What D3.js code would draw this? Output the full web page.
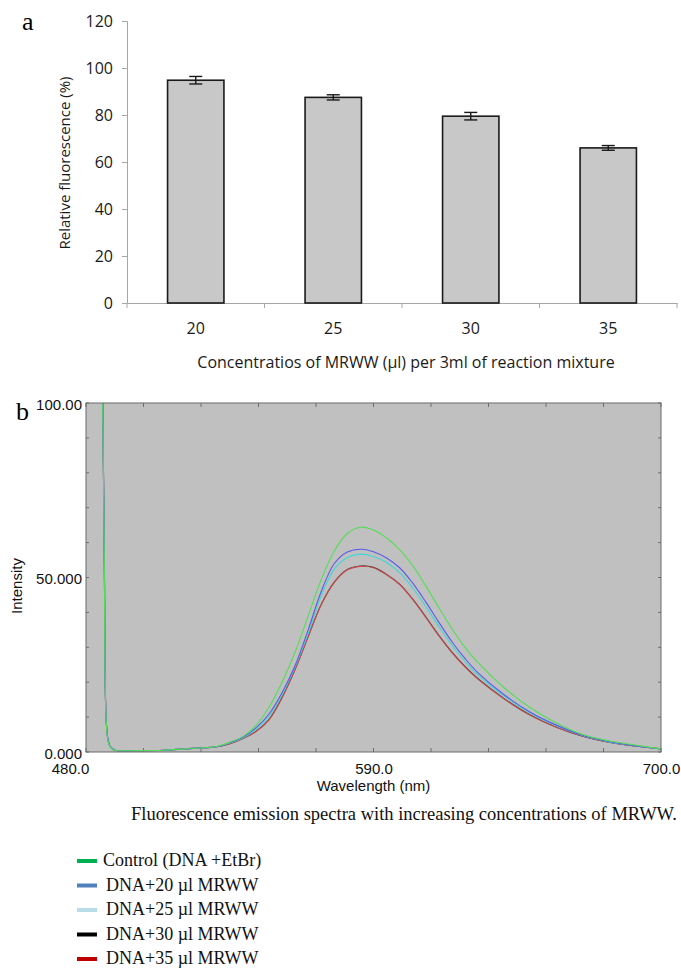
<!DOCTYPE html>
<html>
<head>
<meta charset="utf-8">
<style>
  body { margin: 0; background: #fff; }
  svg { display: block; }
</style>
</head>
<body>
<div id="chartId"></div>
<script src="https://cdn.jsdelivr.net/npm/d3@7"></script>
<script>

// Panel a: bar chart data
const concentrations = ['20', '25', '30', '35'];
const relFluorescence = [94.8, 87.5, 79.5, 66.0];
const relError = [1.6, 1.1, 1.6, 1.0];
const yTicksA = [0, 20, 40, 60, 80, 100, 120];

// Panel b: emission spectra (wavelength in nm, intensity)
const wavelength = [486.0, 486.4, 487.0, 487.7, 488.5, 489.5, 491, 500, 510, 518, 525, 530, 535, 540, 545, 550, 555, 560, 565, 570, 575, 580, 585, 590, 595, 600, 605, 610, 615, 620, 625, 630, 640, 650, 660, 670, 680, 690, 700];
const controlEtBr = [112, 100, 55, 9, 3, 1.2, 0.5, 0.4, 0.5, 0.9, 1.2, 1.6, 2.8, 4.4, 7.6, 12.8, 20.0, 28.6, 39.0, 49.4, 57.6, 62.6, 64.4, 63.6, 61.3, 58.0, 53.4, 47.6, 41.4, 35.3, 30.0, 25.6, 18.4, 12.7, 8.3, 5.0, 3.2, 2.0, 0.9];
const mrww20 = [112, 100, 56, 9.5, 3.2, 1.3, 0.5, 0.4, 0.5, 0.9, 1.2, 1.5, 2.7, 4.2, 6.9, 10.9, 17.0, 24.8, 35.0, 46.0, 54.0, 57.3, 58.1, 57.4, 55.6, 52.8, 48.4, 43.0, 37.2, 31.6, 26.8, 22.7, 16.4, 11.4, 7.7, 4.8, 3.0, 1.8, 0.9];
const mrww25 = [112, 100, 55.5, 9.2, 3.1, 1.2, 0.5, 0.4, 0.5, 0.9, 1.2, 1.5, 2.6, 4.0, 6.5, 10.3, 16.4, 24.4, 34.0, 44.8, 52.4, 55.7, 56.7, 56.0, 54.3, 51.4, 47.0, 41.7, 36.0, 30.6, 26.0, 22.0, 16.0, 11.2, 7.5, 4.7, 2.9, 1.8, 0.9];
const mrww30 = [112, 100, 56, 9.4, 3.2, 1.3, 0.5, 0.4, 0.5, 0.9, 1.2, 1.5, 2.4, 3.9, 5.9, 9.3, 15.6, 23.7, 33.1, 42.3, 48.7, 52.3, 53.3, 52.9, 50.9, 48.1, 43.8, 38.7, 33.4, 28.6, 24.5, 21.0, 15.3, 10.6, 7.1, 4.5, 2.8, 1.7, 0.9];
const mrww35 = [112, 100, 56.5, 9.6, 3.2, 1.3, 0.5, 0.4, 0.5, 0.9, 1.2, 1.5, 2.4, 3.8, 5.8, 9.2, 15.5, 23.6, 33.0, 42.2, 48.6, 52.2, 53.2, 52.8, 50.8, 48.0, 43.7, 38.6, 33.3, 28.5, 24.4, 20.9, 15.2, 10.5, 7.1, 4.6, 2.8, 1.7, 0.9];
const xTicksB = [480, 590, 700];
const yTicksB = [0, 50, 100];

const legendLabels = ['Control (DNA +EtBr)', 'DNA+20 \u00b5l MRWW', 'DNA+25 \u00b5l MRWW', 'DNA+30 \u00b5l MRWW', 'DNA+35 \u00b5l MRWW'];
const legendColors = ['#00b050', '#4f81bd', '#b7dee8', '#000000', '#c00000'];

const svg = d3.select('#chartId').append('svg')
  .attr('width', 681)
  .attr('height', 968);

// ---------- panel a ----------
const sansA = '"Open Sans", sans-serif';
const serif = '"Liberation Serif", "Times New Roman", serif';
const inkA = '#1a1a1a';

const xA = d3.scaleBand().domain(concentrations).range([127, 677])
  .paddingInner(0.59).paddingOuter(0.295);
const yA = d3.scaleLinear().domain([0, 120]).range([303, 21]);

svg.append('text').text('a')
  .attr('x', 22).attr('y', 30)
  .style('font-family', serif).style('font-size', '26px');

const yAxisA = svg.append('g').attr('transform', 'translate(127,0)')
  .call(d3.axisLeft(yA).tickValues(yTicksA).tickSize(5).tickPadding(9));
yAxisA.selectAll('path, line').attr('stroke', '#a6a6a6');
yAxisA.selectAll('text').style('font-family', sansA).style('font-size', '16px').attr('fill', inkA);

const xAxisA = svg.append('g').attr('transform', 'translate(0,303)')
  .call(d3.axisBottom(xA).tickSize(0).tickPadding(20));
xAxisA.select('path').attr('stroke', '#a6a6a6');
xAxisA.selectAll('text').style('font-family', sansA).style('font-size', '16px').attr('fill', inkA);
// tick marks between categories
xAxisA.selectAll('.sep')
  .data(d3.range(concentrations.length + 1))
  .join('line')
  .attr('x1', i => xA.range()[0] + i * xA.step())
  .attr('x2', i => xA.range()[0] + i * xA.step())
  .attr('y1', 0).attr('y2', 5)
  .attr('stroke', '#a6a6a6');

svg.selectAll('.bar')
  .data(relFluorescence)
  .join('rect')
  .attr('x', (d, i) => xA(concentrations[i]))
  .attr('y', d => yA(d))
  .attr('width', xA.bandwidth())
  .attr('height', d => yA(0) - yA(d))
  .attr('fill', '#c8c8c8')
  .attr('stroke', '#1a1a1a')
  .attr('stroke-width', 1.6);

const err = svg.append('g').attr('stroke', '#1a1a1a').attr('stroke-width', 1.4);
relFluorescence.forEach((v, i) => {
  const cx = xA(concentrations[i]) + xA.bandwidth() / 2;
  err.append('line').attr('x1', cx).attr('x2', cx).attr('y1', yA(v - relError[i])).attr('y2', yA(v + relError[i]));
  err.append('line').attr('x1', cx - 6.5).attr('x2', cx + 6.5).attr('y1', yA(v - relError[i])).attr('y2', yA(v - relError[i]));
  err.append('line').attr('x1', cx - 6.5).attr('x2', cx + 6.5).attr('y1', yA(v + relError[i])).attr('y2', yA(v + relError[i]));
});

svg.append('text').text('Relative fluorescence (%)')
  .attr('transform', 'translate(70,163) rotate(-90)')
  .attr('text-anchor', 'middle')
  .style('font-family', sansA).style('font-size', '15px').attr('fill', inkA);

svg.append('text').text('Concentratios of MRWW (\u00b5l) per 3ml of reaction mixture')
  .attr('x', 406).attr('y', 368)
  .attr('text-anchor', 'middle')
  .style('font-family', sansA).style('font-size', '16px').attr('fill', inkA);

// ---------- panel b ----------
const sansB = '"Liberation Sans", Arial, sans-serif';
const xB = d3.scaleLinear().domain([480, 700]).range([86, 661]);
const yB = d3.scaleLinear().domain([0, 100]).range([752, 403]);

svg.append('text').text('b')
  .attr('x', 16).attr('y', 420)
  .style('font-family', serif).style('font-size', '26px');

svg.append('rect')
  .attr('x', xB(480)).attr('y', yB(100))
  .attr('width', xB(700) - xB(480)).attr('height', yB(0) - yB(100))
  .attr('fill', '#c0c0c0');

svg.append('clipPath').attr('id', 'plotClip')
  .append('rect')
  .attr('x', xB(480)).attr('y', yB(100))
  .attr('width', xB(700) - xB(480)).attr('height', yB(0) - yB(100));

// inward minor ticks on all four sides
const minorX = d3.range(480, 700.1, 22);
const minorY = d3.range(0, 100.1, 10);
const tickG = svg.append('g').attr('stroke', '#6e6e6e');
minorX.forEach(w => {
  tickG.append('line').attr('x1', xB(w)).attr('x2', xB(w)).attr('y1', yB(100)).attr('y2', yB(100) + 4);
  tickG.append('line').attr('x1', xB(w)).attr('x2', xB(w)).attr('y1', yB(0)).attr('y2', yB(0) - 4);
});
minorY.forEach(v => {
  tickG.append('line').attr('x1', xB(480)).attr('x2', xB(480) + 3).attr('y1', yB(v)).attr('y2', yB(v));
  tickG.append('line').attr('x1', xB(700)).attr('x2', xB(700) - 3).attr('y1', yB(v)).attr('y2', yB(v));
});

const series = [
  { values: mrww30, color: '#3a3a3a' },
  { values: mrww35, color: '#cc4c4c' },
  { values: mrww25, color: '#3fd6d6' },
  { values: mrww20, color: '#5b5be8' },
  { values: controlEtBr, color: '#55dd55' }
];
const line = d3.line()
  .x((d, i) => xB(wavelength[i]))
  .y(d => yB(d))
  .curve(d3.curveCatmullRom.alpha(0.5));

svg.append('g').attr('clip-path', 'url(#plotClip)')
  .selectAll('path')
  .data(series)
  .join('path')
  .attr('fill', 'none')
  .attr('stroke', d => d.color)
  .attr('stroke-width', 1.1)
  .attr('d', d => line(d.values));

svg.append('rect')
  .attr('x', xB(480)).attr('y', yB(100))
  .attr('width', xB(700) - xB(480)).attr('height', yB(0) - yB(100))
  .attr('fill', 'none').attr('stroke', '#6a6a6a').attr('stroke-width', 1);

const yAxisB = svg.append('g').attr('transform', 'translate(' + xB(480) + ',1.5)')
  .call(d3.axisLeft(yB).tickValues(yTicksB).tickSize(0).tickPadding(4)
    .tickFormat(d => d === 100 ? '100.00' : d3.format('.3f')(d)));
yAxisB.select('path').remove();
yAxisB.selectAll('text').style('font-family', sansB).style('font-size', '15px').attr('fill', '#111');

const xAxisB = svg.append('g').attr('transform', 'translate(0,' + yB(0) + ')')
  .call(d3.axisBottom(xB).tickValues(xTicksB).tickSize(0).tickPadding(11).tickFormat(d3.format('.1f')));
xAxisB.select('path').remove();
xAxisB.selectAll('text').style('font-family', sansB).style('font-size', '15px').attr('fill', '#111')
  .attr('dx', d => d === 480 ? -16 : 0);

svg.append('text').text('Intensity')
  .attr('transform', 'translate(22,586) rotate(-90)')
  .attr('text-anchor', 'middle')
  .style('font-family', sansB).style('font-size', '15px').attr('fill', '#111');

svg.append('text').text('Wavelength (nm)')
  .attr('x', xB(590)).attr('y', 791)
  .attr('text-anchor', 'middle')
  .style('font-family', sansB).style('font-size', '15px').attr('fill', '#111');

svg.append('text').text('Fluorescence emission spectra with increasing concentrations of MRWW.')
  .attr('x', 677).attr('y', 820)
  .attr('text-anchor', 'end')
  .style('font-family', serif).style('font-size', '18.5px').attr('fill', '#111');

// legend
const legend = svg.append('g');
legendLabels.forEach((label, i) => {
  const y = 861 + i * 24.5;
  legend.append('line')
    .attr('x1', 77).attr('x2', 97).attr('y1', y).attr('y2', y)
    .attr('stroke', legendColors[i]).attr('stroke-width', 4);
  legend.append('text').text(label)
    .attr('x', i === 0 ? 103 : 106).attr('y', y + 5)
    .style('font-family', serif).style('font-size', '18px').attr('fill', '#111');
});

</script>
</body>
</html>
